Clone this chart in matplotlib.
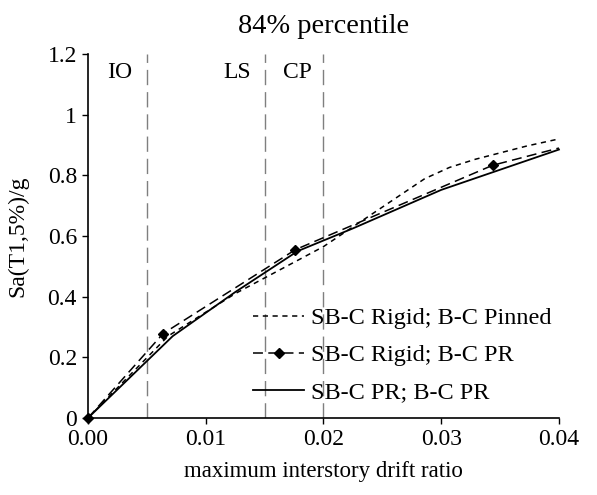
import matplotlib
matplotlib.use("Agg")
import matplotlib.pyplot as plt
from matplotlib.ticker import FuncFormatter

plt.rcParams['font.family'] = ['Liberation Serif', 'DejaVu Serif']
plt.rcParams['font.size'] = 17

# data
drift_pinned = [0.0, 0.0068, 0.0125, 0.020, 0.0286, 0.0307, 0.0329, 0.0351, 0.0373, 0.040]
sa_pinned = [0.0, 0.27, 0.41, 0.565, 0.789, 0.826, 0.853, 0.875, 0.897, 0.92]

drift_rigid_pr = [0.0, 0.00637, 0.01762, 0.03436, 0.040]
sa_rigid_pr = [0.0, 0.278, 0.555, 0.833, 0.89]

drift_pr_pr = [0.0, 0.0072, 0.0125, 0.0178, 0.0225, 0.030, 0.040]
sa_pr_pr = [0.0, 0.27, 0.415, 0.55, 0.625, 0.752, 0.885]

limit_drifts = [0.005, 0.015, 0.020]
limit_names = ["IO", "LS", "CP"]
limit_label_x = [0.00268, 0.01263, 0.01775]

fig = plt.figure(figsize=(5.97, 4.95), dpi=100)
ax = fig.add_axes([0.1474, 0.1556, 0.7889, 0.7353])

# performance levels
for xd in limit_drifts:
    ax.axvline(xd, color='#7f7f7f', lw=1.0, dashes=(11, 5))
for xl, name in zip(limit_label_x, limit_names):
    ax.text(xl, 1.14, name, ha='center', va='center')

ax.plot(drift_pinned, sa_pinned, color='black', lw=1.1, dashes=(3.4, 3.0),
        clip_on=False, label='SB-C Rigid; B-C Pinned')
ax.plot(drift_rigid_pr, sa_rigid_pr, color='black', lw=1.1, dashes=(6.5, 3.5),
        marker='D', markersize=5, markevery=[0, 1, 2, 3], clip_on=False,
        label='SB-C Rigid; B-C PR')
ax.plot(drift_pr_pr, sa_pr_pr, color='black', lw=1.3, clip_on=False,
        label='SB-C PR; B-C PR')

ax.set_xlim(0, 0.04)
ax.set_ylim(0, 1.2)
ax.set_xticks([0.0, 0.01, 0.02, 0.03, 0.04])
ax.set_yticks([0, 0.2, 0.4, 0.6, 0.8, 1.0, 1.2])
ax.xaxis.set_major_formatter(FuncFormatter(lambda v, p: f"{v:.2f}"))
ax.yaxis.set_major_formatter(FuncFormatter(lambda v, p: f"{v:g}"))
ax.tick_params(direction='out', length=4, width=1.0, pad=4)

for s in ['top', 'right']:
    ax.spines[s].set_visible(False)
for s in ['left', 'bottom']:
    ax.spines[s].set_linewidth(1.2)

ax.set_title("84% percentile", pad=15)
ax.set_xlabel("maximum interstory drift ratio", labelpad=8, fontsize=16.5)
ax.set_ylabel("Sa(T1,5%)/g", labelpad=14)

ax.legend(loc='upper left', bbox_to_anchor=(0.424, 0.379),
          bbox_transform=fig.transFigure, frameon=False, fontsize=17.5,
          handlelength=2.1, handletextpad=0.3, labelspacing=0.62,
          borderpad=0, borderaxespad=0)

fig.savefig("out.png", dpi=100)
